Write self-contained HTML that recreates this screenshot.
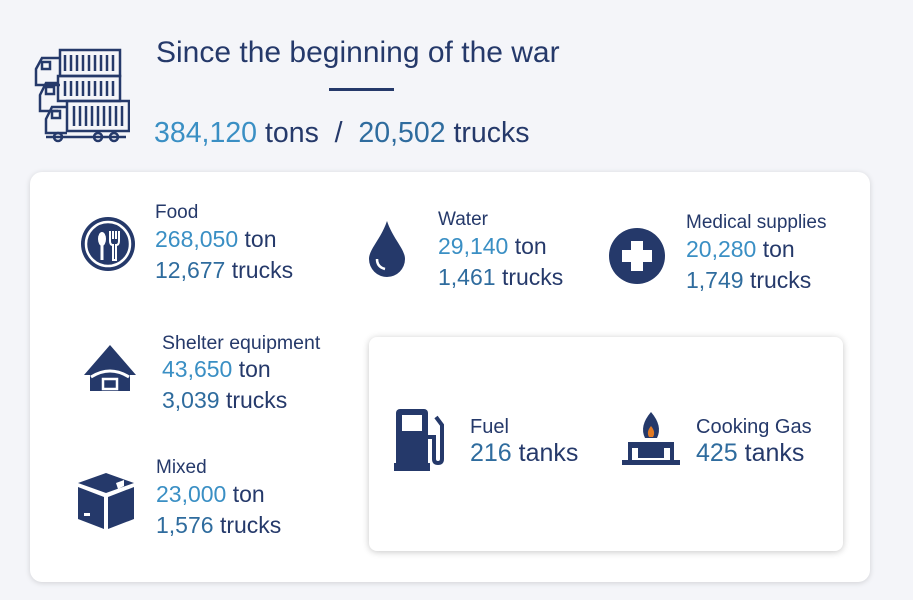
<!DOCTYPE html>
<html><head><meta charset="utf-8"><style>
*{margin:0;padding:0;box-sizing:border-box}
body{width:913px;height:600px;background:#f4f5f9;font-family:"Liberation Sans",sans-serif;position:relative;overflow:hidden;color:#25396a}
.abs{position:absolute}
.b{color:#3a8fc4}.m{color:#2f6c9e}
.lbl{font-size:19px;line-height:22px}
.val{font-size:23px;line-height:31px}
.card{left:30px;top:172px;width:840px;height:410px;background:#fff;border-radius:12px;box-shadow:0 1px 6px rgba(0,0,0,.15)}
.inner{left:369px;top:337px;width:474px;height:214px;background:#fff;border-radius:8px;box-shadow:0 1px 7px rgba(0,0,0,.22)}
</style></head><body>
<svg class="abs" style="left:30px;top:45px" width="100" height="100" viewBox="0 0 100 100" fill="none" stroke="#25396a" stroke-width="2.5">
<rect x="30" y="5" width="60" height="26"/><rect x="28" y="31" width="62" height="25"/><rect x="37" y="56" width="62" height="30"/>
<path d="M35 10v16M41 10v16M47 10v16M53 10v16M59 10v16M65 10v16M71 10v16M77 10v16M83 10v16M35 36v15M41 36v15M47 36v15M53 36v15M59 36v15M65 36v15M71 36v15M77 36v15M83 36v15M44 61v20M50 61v20M56 61v20M62 61v20M68 61v20M74 61v20M80 61v20M86 61v20M92 61v20"/>
<path d="M30 13H12L6 24v16h24M28 38H16L10 50v16h18M37 62H22L16 74v14h21"/>
<rect x="12" y="17" width="8" height="7"/><rect x="16" y="42" width="8" height="7"/><rect x="22" y="66" width="8" height="7"/>
<path d="M16 92h80"/><circle cx="28" cy="92" r="4"/><circle cx="68" cy="92" r="4"/><circle cx="84" cy="92" r="4"/>
</svg>
<div class="abs" style="left:156px;top:35px;font-size:30px;line-height:36px">Since the beginning of the war</div>
<div class="abs" style="left:329px;top:88px;width:65px;height:3px;background:#25396a"></div>
<div class="abs" style="left:154px;top:115px;font-size:28.5px;line-height:36px"><span class="b">384,120</span> tons &nbsp;/ &nbsp;<span class="m">20,502</span> trucks</div>
<div class="abs card"></div>
<div class="abs inner"></div>

<svg class="abs" style="left:80px;top:216px" width="56" height="56" viewBox="0 0 56 56"><circle cx="28" cy="28" r="27" fill="#25396a"/><circle cx="28" cy="28" r="22" fill="none" stroke="#fff" stroke-width="2.5"/><ellipse cx="22" cy="23" rx="4" ry="7" fill="#fff"/><rect x="20.5" y="28" width="3" height="16" fill="#fff"/><path d="M30 15v10q0 4 3 4v15h3V29q3 0 3-4V15M33 15v8M36 15v8" stroke="#fff" stroke-width="2" fill="none"/></svg>
<div class="abs" style="left:155px;top:202px"><div class="lbl">Food</div><div class="val"><span class="b">268,050</span> ton</div><div class="val"><span class="m">12,677</span> trucks</div></div>

<svg class="abs" style="left:367px;top:221px" width="40" height="56" viewBox="0 0 40 56"><path d="M20 0C14 18 2 28 2 38a18 18 0 0 0 36 0C38 28 26 18 20 0z" fill="#25396a"/><path d="M10 38q0 8 8 10" stroke="#fff" stroke-width="2.5" fill="none"/></svg>
<div class="abs" style="left:438px;top:209px"><div class="lbl">Water</div><div class="val"><span class="b">29,140</span> ton</div><div class="val"><span class="m">1,461</span> trucks</div></div>

<svg class="abs" style="left:609px;top:228px" width="56" height="56" viewBox="0 0 56 56"><circle cx="28" cy="28" r="28" fill="#25396a"/><path d="M22 13h12v9h9v12h-9v9H22v-9h-9V22h9z" fill="#fff"/></svg>
<div class="abs" style="left:686px;top:212px"><div class="lbl">Medical supplies</div><div class="val"><span class="b">20,280</span> ton</div><div class="val"><span class="m">1,749</span> trucks</div></div>

<svg class="abs" style="left:83px;top:345px" width="54" height="48" viewBox="0 0 54 48"><path d="M27 0L53 30H47V46H7V30H1z" fill="#25396a"/><path d="M8 32q19-12 38 0" stroke="#fff" stroke-width="3" fill="none"/><rect x="20" y="34" width="14" height="10" fill="none" stroke="#fff" stroke-width="2.5"/></svg>
<div class="abs" style="left:162px;top:332px"><div class="lbl" style="font-size:19.5px">Shelter equipment</div><div class="val"><span class="b">43,650</span> ton</div><div class="val"><span class="m">3,039</span> trucks</div></div>

<svg class="abs" style="left:78px;top:473px" width="56" height="56" viewBox="0 0 56 56"><path d="M28 0L56 10 28 20 0 10z" fill="#25396a"/><path d="M0 14l26 10v32L0 46z" fill="#25396a"/><path d="M30 24l26-10v32L30 56z" fill="#25396a"/><path d="M38 10l8 -3v6l-6 3" fill="#fff"/><rect x="6" y="40" width="6" height="3" fill="#fff"/></svg>
<div class="abs" style="left:156px;top:457px"><div class="lbl">Mixed</div><div class="val"><span class="b">23,000</span> ton</div><div class="val"><span class="m">1,576</span> trucks</div></div>

<svg class="abs" style="left:394px;top:407px" width="54" height="64" viewBox="0 0 54 64"><rect x="2" y="2" width="32" height="58" rx="4" fill="#25396a"/><rect x="8" y="8" width="20" height="16" fill="#fff"/><rect x="0" y="56" width="36" height="8" fill="#25396a"/><path d="M34 30h6v22q0 4 4 4t4-4V18l-6-8" stroke="#25396a" stroke-width="4" fill="none"/></svg>
<div class="abs" style="left:470px;top:416px"><div class="lbl" style="font-size:20px">Fuel</div><div class="val" style="font-size:25px"><span class="m">216</span> tanks</div></div>

<svg class="abs" style="left:620px;top:412px" width="62" height="56" viewBox="0 0 62 56"><path d="M31 0q-12 14-6 26h12q6-12-6-26z" fill="#25396a"/><path d="M31 14q-5 6-2 11h4q3-5-2-11z" fill="#e27a24"/><rect x="8" y="30" width="46" height="6" fill="#25396a"/><rect x="18" y="36" width="26" height="10" fill="#25396a"/><rect x="2" y="48" width="58" height="5" fill="#25396a"/><rect x="8" y="30" width="4" height="22" fill="#25396a"/><rect x="50" y="30" width="4" height="22" fill="#25396a"/></svg>
<div class="abs" style="left:696px;top:416px"><div class="lbl" style="font-size:20px">Cooking Gas</div><div class="val" style="font-size:25px"><span class="m">425</span> tanks</div></div>
</body></html>
